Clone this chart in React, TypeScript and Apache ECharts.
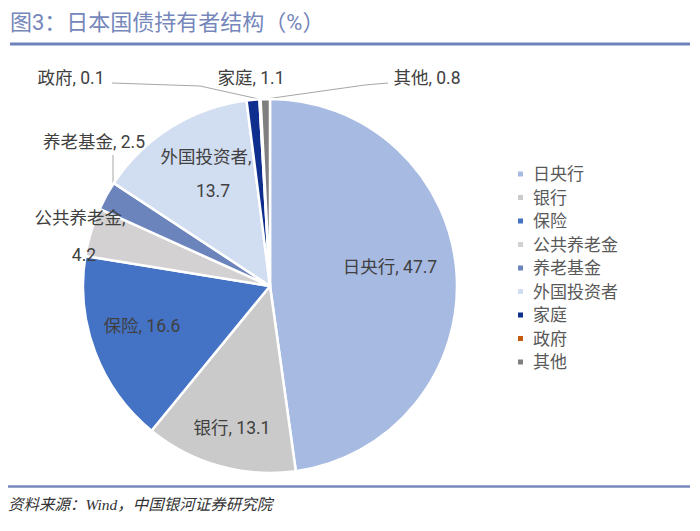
import React, { useEffect, useRef } from "react";
import * as echarts from "echarts";

const categories = ["日央行", "银行", "保险", "公共养老金", "养老基金", "外国投资者", "家庭", "政府", "其他"];
const values = [47.7, 13.1, 16.6, 4.2, 2.5, 13.7, 1.1, 0.1, 0.8];
const colors = ["#a7bae2", "#cacaca", "#4472c4", "#d3d1d1", "#6b84bc", "#d1ddf0", "#0e2f8e", "#c55a11", "#7f7f7f"];
const titleText = "图3：日本国债持有者结构（%）";
const sourceText = "资料来源：Wind，中国银河证券研究院";

const CX = 270;
const CY = 286;
const R = 187;

// label centres as offsets from the pie centre
const labelSpots: Record<string, [number, number]> = {
  日央行: [120, -19],
  银行: [-38, 142],
  保险: [-128, 40],
  外国投资者: [-64, -112],
  公共养老金: [-190, -49.5],
  养老基金: [-176, -144],
  政府: [-199, -208],
  家庭: [-19, -208],
  其他: [157, -208],
};
// two-line labels: line height and extra left shift of the value line
const twoLine: Record<string, [number, number]> = { 外国投资者: [34, 14], 公共养老金: [37, 8] };
const withLine = ["政府", "其他", "养老基金"];

const total = values.reduce((a, b) => a + b, 0);
const midAngles: number[] = [];
{
  let cum = 0;
  values.forEach((v) => {
    midAngles.push(((cum + v / 2) / total) * 2 * Math.PI);
    cum += v;
  });
}
const edge = (i: number): [number, number] => [CX + R * Math.sin(midAngles[i]), CY - R * Math.cos(midAngles[i])];

export default function App() {
  const ref = useRef<HTMLDivElement>(null);
  useEffect(() => {
    if (!ref.current) return;
    const chart = echarts.init(ref.current, null, { renderer: "svg" });
    const font = "Roboto, 'Noto Sans CJK SC', sans-serif";
    const data = categories.map((name, i) => {
      const tl = twoLine[name];
      const hasLine = withLine.includes(name);
      return {
        name,
        value: values[i],
        itemStyle: { color: colors[i] },
        label: tl
          ? {
              position: "inside",
              formatter: "{n|{b},}\n{v|{c}}",
              rich: {
                n: { fontSize: 17.5, color: "#404040", fontFamily: font, lineHeight: tl[0] },
                v: { fontSize: 17.5, color: "#404040", fontFamily: font, lineHeight: tl[0], padding: [0, 0, 0, tl[1]] },
              },
            }
          : {
              position: hasLine ? "outside" : "inside",
              formatter: "{b}, {c}",
              lineHeight: 20,
            },
        labelLine: { show: hasLine },
      };
    });
    const linePoints = (name: string): number[][] | undefined => {
      const i = categories.indexOf(name);
      if (name === "政府") return [[CX - 158, CY - 203], [CX - 70, CY - 200], edge(i)];
      if (name === "其他") return [[CX + 118, CY - 203], [CX + 95, CY - 201], edge(i)];
      if (name === "养老基金") {
        const dx = -157;
        return [[CX + dx, CY - 131], [CX + dx, CY - Math.sqrt(R * R - dx * dx)]];
      }
      return undefined;
    };
    chart.setOption({
      animation: false,
      title: {
        text: titleText,
        left: 10,
        top: 11,
        padding: 0,
        textStyle: { fontSize: 22, color: "#7587bb", fontWeight: "normal", fontFamily: font },
      },
      legend: {
        orient: "vertical",
        left: 511,
        top: 160.5,
        itemWidth: 7,
        itemHeight: 7,
        itemGap: 6.5,
        icon: "rect",
        selectedMode: false,
        data: categories,
        textStyle: { fontSize: 17, lineHeight: 17, color: "#595959", fontFamily: font, padding: [0, 0, 0, 4] },
      },
      graphic: [
        { type: "line", shape: { x1: 10, y1: 44, x2: 690, y2: 44 }, style: { stroke: "#6f84bd", lineWidth: 3 } },
        { type: "line", shape: { x1: 8, y1: 486.5, x2: 690, y2: 486.5 }, style: { stroke: "#7689bd", lineWidth: 2.5 } },
        {
          type: "text",
          x: 8,
          y: 504,
          style: {
            text: sourceText,
            fill: "#333333",
            font: "italic 15.5px 'Liberation Serif', 'Noto Sans CJK SC', serif",
            verticalAlign: "middle",
            align: "left",
          },
        },
      ],
      series: [
        {
          type: "pie",
          center: [CX, CY],
          radius: R,
          startAngle: 90,
          clockwise: true,
          avoidLabelOverlap: false,
          silent: true,
          itemStyle: { borderColor: "#ffffff", borderWidth: 2.5 },
          label: { fontSize: 17.5, color: "#404040", fontFamily: font },
          labelLine: { lineStyle: { color: "#a6a6a6", width: 1 }, length: 10, length2: 10 },
          labelLayout: (params: any) => {
            const name = categories[params.dataIndex];
            const off = labelSpots[name];
            const res: any = {
              x: CX + off[0],
              y: CY + off[1],
              align: "center",
              verticalAlign: "middle",
            };
            const pts = linePoints(name);
            if (pts) res.labelLinePoints = pts;
            return res;
          },
          data,
        },
      ],
    });
    return () => chart.dispose();
  }, []);
  return <div ref={ref} style={{ position: "fixed", left: 0, top: 0, width: 700, height: 531, background: "#fff" }} />;
}
